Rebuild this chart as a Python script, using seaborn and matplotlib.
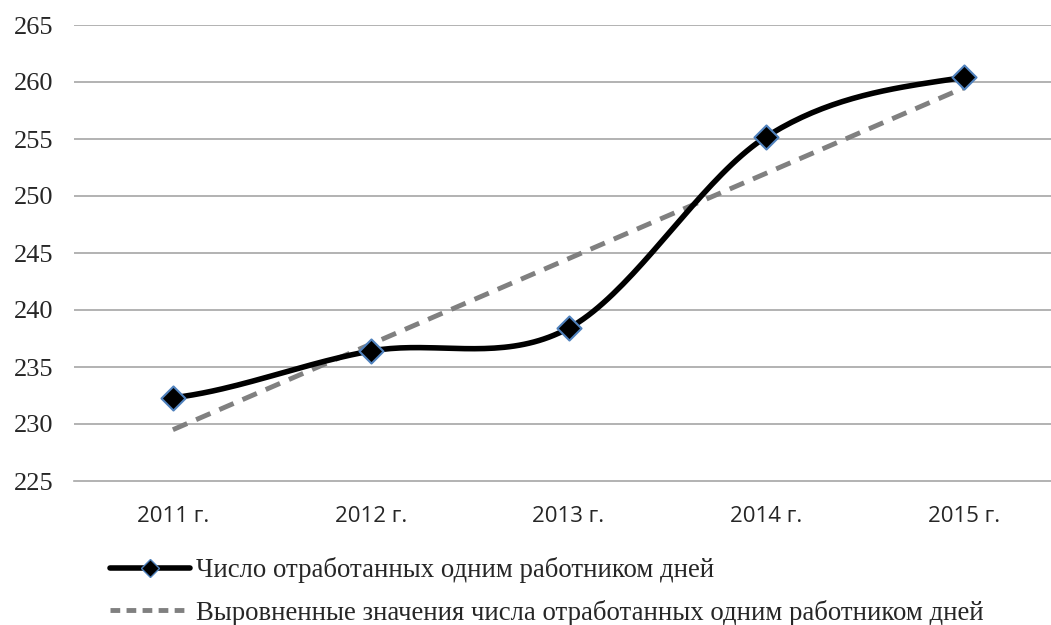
import numpy as np
import pandas as pd
import matplotlib
matplotlib.use("Agg")
import matplotlib.pyplot as plt
import seaborn as sns
from matplotlib.lines import Line2D

years = ["2011 г.", "2012 г.", "2013 г.", "2014 г.", "2015 г."]
days_worked = [232.3, 236.4, 238.4, 255.2, 260.4]
trend_values = [229.5, 237.0, 244.5, 252.0, 259.5]
y_ticks = [225, 230, 235, 240, 245, 250, 255, 260, 265]

label_actual = "Число отработанных одним работником дней"
label_trend = "Выровненные значения числа отработанных одним работником дней"

sns.set_style("white")
plt.rcParams["font.family"] = ["Liberation Serif", "DejaVu Serif"]


def smooth(y, n=40):
    # Catmull-Rom style smoothing, like the spreadsheet "smoothed line"
    y = np.asarray(y, dtype=float)
    pts = np.concatenate([[y[0]], y, [y[-1]]])
    xs, ys = [], []
    for i in range(len(y) - 1):
        p0, p1, p2, p3 = pts[i], pts[i + 1], pts[i + 2], pts[i + 3]
        m1 = (p2 - p0) / 2
        m2 = (p3 - p1) / 2
        t = np.linspace(0, 1, n, endpoint=(i == len(y) - 2))
        h00 = 2 * t**3 - 3 * t**2 + 1
        h10 = t**3 - 2 * t**2 + t
        h01 = -2 * t**3 + 3 * t**2
        h11 = t**3 - t**2
        xs.append(i + t)
        ys.append(h00 * p1 + h10 * m1 + h01 * p2 + h11 * m2)
    return np.concatenate(xs), np.concatenate(ys)


df = pd.DataFrame({"x": np.arange(len(years)), "actual": days_worked, "trend": trend_values})
sx, sy = smooth(days_worked)
curve = pd.DataFrame({"x": sx, "y": sy})

fig = plt.figure(figsize=(10.51, 6.25), dpi=100)
ax = fig.add_axes([74 / 1051, 1 - 481 / 625, (1063 - 74) / 1051, (481 - 25) / 625])

grid_color = "#A6A6A6"
dash = (0, (3.2, 2.0))
for v in y_ticks[1:]:
    ax.axhline(v, color=grid_color, lw=1.2, zorder=0)

sns.lineplot(data=df, x="x", y="trend", ax=ax, color="#808080", lw=3.5,
             linestyle=dash, zorder=2)
sns.lineplot(data=curve, x="x", y="y", ax=ax, color="black", lw=4, zorder=3)
sns.scatterplot(data=df, x="x", y="actual", ax=ax, marker="D", s=150,
                color="black", edgecolor="#4F81BD", linewidth=1.5, zorder=4)

ax.set_xlim(-0.5, len(years) - 0.5)
ax.set_ylim(225, 265)
ax.set_yticks(y_ticks)
ax.set_yticklabels([str(v) for v in y_ticks], fontsize=19)
ax.set_xticks(np.arange(len(years)))
ax.set_xticklabels(years, fontsize=16, family=["Open Sans", "DejaVu Sans"])
ax.tick_params(axis="x", length=0, pad=18)
ax.tick_params(axis="y", length=0, pad=15)
# category boundary tick marks
ax.set_xticks(np.arange(len(years) + 1) - 0.5, minor=True)
ax.tick_params(axis="x", which="minor", length=7, color=grid_color, width=1.2)
ax.set_xlabel("")
ax.set_ylabel("")
for s in ["top", "right", "left"]:
    ax.spines[s].set_visible(False)
ax.spines["bottom"].set_color(grid_color)
ax.spines["bottom"].set_linewidth(1.2)

handles = [
    Line2D([], [], color="black", lw=4, marker="D", markersize=9,
           markerfacecolor="black", markeredgecolor="#4F81BD"),
    Line2D([], [], color="#808080", lw=3.5, linestyle=(0, (2.0, 1.3))),
]
fig.legend(handles, [label_actual, label_trend], loc="upper left",
           bbox_to_anchor=(110 / 1051, 1 - 557 / 625), frameon=False,
           fontsize=19.3, handlelength=3.0, handletextpad=0.2,
           labelspacing=0.62, borderpad=0, borderaxespad=0)

fig.savefig("out.png", dpi=100)
